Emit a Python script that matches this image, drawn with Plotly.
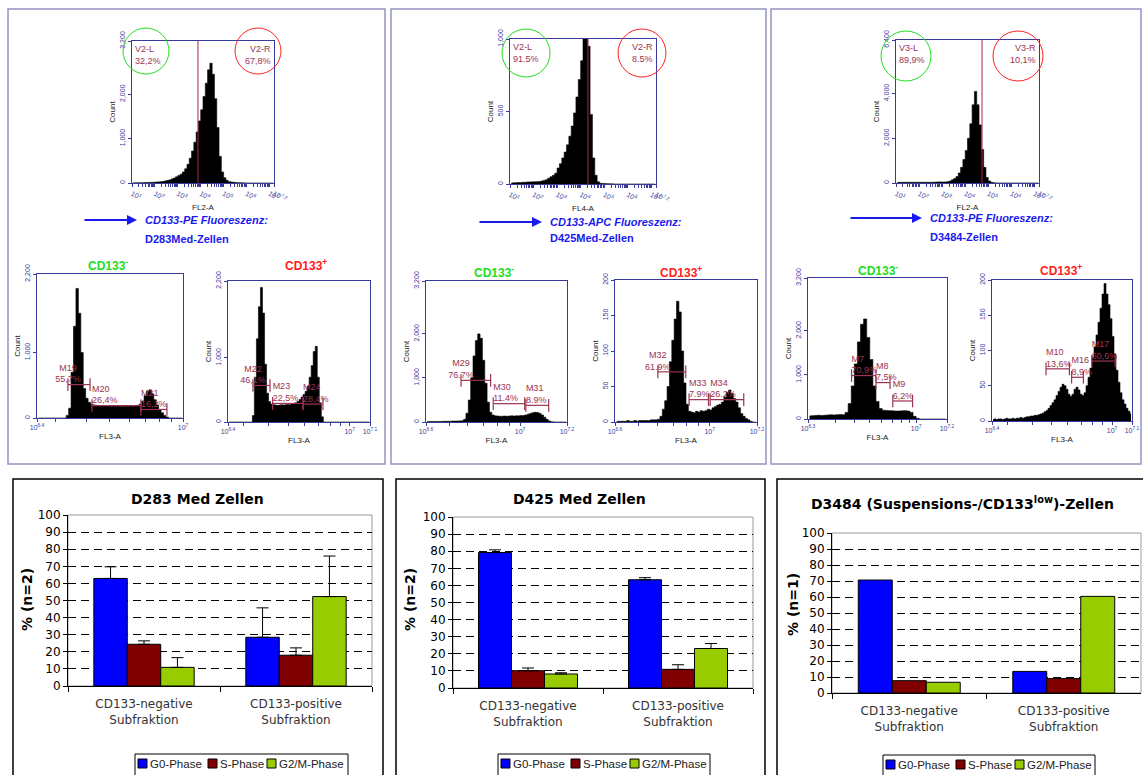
import numpy as np
import plotly.graph_objects as go

W, H = 1143, 775

# ------------------------------------------------------------------ data
# Top CD133 histograms: log10 bin start, bin width (log10), counts
H1_START, H1_STEP = 1.0, 0.1
H1_COUNTS = [5, 5, 5, 8, 8, 10, 10, 12, 15, 15,
             20, 25, 30, 35, 45, 55, 70, 90, 110, 140,
             170, 200, 250, 320, 420, 560, 720, 920, 1150, 1400,
             1650, 1950, 2250, 2550, 2700, 2450, 1900, 1250, 600, 250,
             120, 60, 30, 20, 15, 10, 8, 5, 3, 2,
             1, 1, 0, 0, 0, 0, 0, 0, 0, 0, 0, 0]
H1_GATE = 3.88
H1_GATE_TEXT = ["V2-L<br>32,2%", "V2-R<br>67,8%"]

H2_START, H2_STEP = 1.0, 0.1
H2_COUNTS = [5, 8, 8, 10, 10, 12, 12, 14, 14, 15,
             15, 16, 18, 20, 25, 30, 40, 50, 60, 75,
             110, 140, 180, 220, 270, 330, 400, 490, 600, 720,
             850, 1050, 1150, 950, 480, 180, 60, 15, 5, 3,
             3, 2, 1, 1, 0, 0, 0, 0, 0, 0,
             0, 0, 0, 0, 0, 0, 0, 0, 0, 0, 0, 0]
H2_GATE = 4.31
H2_GATE_TEXT = ["V2-L<br>91.5%", "V2-R<br>8.5%"]

H3_START, H3_STEP = 1.0, 0.1
H3_COUNTS = [20, 30, 30, 30, 30, 30, 30, 30, 30, 30,
             30, 30, 30, 30, 30, 30, 35, 40, 45, 50,
             40, 50, 60, 90, 140, 200, 290, 450, 700, 1050,
             1450, 2000, 2650, 3500, 4100, 3500, 2600, 1500, 700, 250,
             90, 30, 10, 5, 3, 2, 1, 0, 0, 0,
             0, 0, 0, 0, 0, 0, 0, 0, 0, 0, 0, 0]
H3_GATE = 4.73
H3_GATE_TEXT = ["V3-L<br>89,9%", "V3-R<br>10,1%"]

# Cell-cycle (FL3-A) histograms of the sorted fractions
S1L_START, S1L_STEP = 6.40, 0.01
S1L_COUNTS = [0, 0, 0, 0, 0, 0, 0, 0, 0, 0, 0, 0,
              40, 150, 700, 1400, 1980, 1600, 1000, 450, 300, 240, 210,
              200, 195, 190, 190, 185, 190, 185, 180, 185, 180,
              185, 180, 180, 185, 180, 185, 180, 190, 195, 210,
              260, 340, 410, 430, 370, 280, 200, 130, 80, 40, 15,
              0, 0, 0, 0, 0, 0]
S1L_MARKERS = [("M19", "55,7%", 6.527, 6.618, 510),
               ("M20", "26,4%", 6.626, 6.827, 190),
               ("M21", "16,2%", 6.827, 6.934, 130)]

S1R_START, S1R_STEP = 6.40, 0.01
S1R_COUNTS = [0, 0, 0, 0, 0, 0, 0, 0, 0, 0, 0, 0,
              100, 700, 1300, 1800, 2100, 1700, 900, 450, 320,
              280, 270, 265, 260, 265, 270, 265, 270, 275, 270, 280, 290, 300, 320, 350,
              390, 430, 480, 560, 700, 880, 1100, 1180, 700, 300, 80,
              0, 0, 0, 0, 0, 0, 0, 0, 0, 0, 0, 0, 0, 0, 0, 0, 0, 0, 0, 0, 0, 0, 0]
S1R_MARKERS = [("M22", "46,1%", 6.523, 6.607, 570),
               ("M23", "22,5%", 6.620, 6.770, 290),
               ("M24", "28,4%", 6.770, 6.868, 280)]

S2L_START, S2L_STEP = 6.60, 0.01
S2L_COUNTS = [10, 10, 10, 12, 12, 12, 12, 15, 15, 15, 18, 20, 20, 22, 25, 30,
              60, 200, 500, 1000, 1500, 1850, 2000, 1900, 1400, 880, 450, 220, 160,
              140, 135, 130, 130, 135, 130, 135, 140, 135, 140, 140, 145, 150,
              160, 175, 195, 210, 220, 215, 195, 160, 110, 60, 25,
              5, 2, 0, 0, 0, 0, 0]
S2L_MARKERS = [("M29", "76.7%", 6.749, 6.875, 945),
               ("M30", "11.4%", 6.886, 7.020, 416),
               ("M31", "8.9%", 7.025, 7.122, 378)]

S2R_START, S2R_STEP = 6.60, 0.01
S2R_COUNTS = [0, 1, 1, 1, 1, 2, 1, 1, 2, 1, 2, 2, 2, 2, 2, 3, 3, 3, 4,
              8, 18, 30, 50, 85, 115, 145, 170, 155, 100, 55, 25,
              15, 14, 13, 15, 14, 16, 15, 16, 18, 17, 20, 22,
              24, 25, 28, 35, 42, 45, 40, 33, 28, 20, 12, 8, 5, 3,
              1, 0, 0]
S2R_MARKERS = [("M32", "61.9%", 6.781, 6.899, 70.6),
               ("M33", "7.9%", 6.913, 6.995, 31.5),
               ("M34", "26.2%", 7.002, 7.144, 31.5)]

S3L_START, S3L_STEP = 6.30, 0.02
S3L_COUNTS = [70, 75, 80, 85, 80, 85, 90, 95, 90, 95, 100, 95,
              150, 350, 750, 1250, 1750, 2150, 2270, 1850, 1350, 750, 400, 240, 200,
              195, 190, 185, 180, 180, 185, 190, 180,
              150, 60, 15,
              0, 0, 0, 0, 0, 0, 0, 0, 0]
S3L_MARKERS = [("M7", "70,9%", 6.582, 6.740, 986),
               ("M8", "7,5%", 6.740, 6.831, 826),
               ("M9", "6,2%", 6.849, 6.977, 409)]

S3R_START, S3R_STEP = 6.40, 0.01
S3R_COUNTS = [2, 3, 2, 3, 3, 2, 3, 4, 3, 3, 4, 3, 4, 4, 5, 4, 5,
              6, 6, 7, 7, 8, 8, 9, 10, 11, 13,
              15, 18, 22, 26, 30, 36, 42, 48, 52, 50, 45, 38, 35, 38, 45, 48, 44, 38, 36,
              40, 50, 62, 75, 90, 105, 122, 140, 160, 180, 195, 180, 165, 145, 120,
              95, 72, 55, 40, 30, 24, 18, 14, 10]
S3R_MARKERS = [("M10", "13,6%", 6.670, 6.787, 74),
               ("M16", "8,9%", 6.798, 6.857, 62),
               ("M17", "60,6%", 6.899, 7.016, 85)]

# Bar charts: cell-cycle phase distribution
CATEGORIES = ["CD133-negative<br>Subfraktion", "CD133-positive<br>Subfraktion"]
PHASES = ["G0-Phase", "S-Phase", "G2/M-Phase"]

D283_G0 = [62.9, 28.5]
D283_S = [24.4, 18.0]
D283_G2M = [10.9, 52.3]
D283_G0_ERR = [6.8, 17.2]
D283_S_ERR = [2.0, 4.3]
D283_G2M_ERR = [5.7, 23.7]

D425_G0 = [79.2, 63.3]
D425_S = [10.1, 10.9]
D425_G2M = [8.2, 23.1]
D425_G0_ERR = [1.6, 1.2]
D425_S_ERR = [1.6, 2.7]
D425_G2M_ERR = [0.7, 2.9]

D3484_G0 = [70.6, 13.5]
D3484_S = [7.7, 9.0]
D3484_G2M = [6.7, 60.4]

BAR_TITLES = ["D283 Med Zellen", "D425 Med Zellen",
              "D3484 (Suspensions-/CD133<sup>low</sup>)-Zellen"]
BAR_YTITLES = ["% (n=2)", "% (n=2)", "% (n=1)"]
PANEL_TEXT = [("CD133-PE Fluoreszenz:", "D283Med-Zellen"),
              ("CD133-APC Fluoreszenz:", "D425Med-Zellen"),
              ("CD133-PE Fluoreszenz:", "D3484-Zellen")]

# ------------------------------------------------------------------ styles
NAVY = "#3a3a9c"
MAROON = "#9b3352"
GATE_RED = "#b0283a"
BLUE_TXT = "#1a1aee"
GREEN = "#22dd22"
RED = "#ff2020"
PHASE_COLORS = ["#0000ff", "#800000", "#99cc00"]
HFONT = "Liberation Sans"
BFONT = "DejaVu Sans"
LEG_SQUARE_OFFSETS = [3, 73, 132]


def fx(p):
    return p / W


def fy(p):
    return 1 - p / H


fig = go.Figure()
layout = {}
annotations = []
shapes = []


def ax_names(i):
    if i == 1:
        return "x", "y", "xaxis", "yaxis"
    return f"x{i}", f"y{i}", f"xaxis{i}", f"yaxis{i}"


def sup(e):
    return f"10<sup>{e}</sup>"


def small_ticks(lo, hi):
    vals = [10 ** lo]
    text = [sup(lo)]
    minor = []
    for k in range(2, 10):
        v = k * 1e6
        if lo + 1e-9 < np.log10(v) < hi - 1e-9:
            minor.append(v)
    if lo < 7 < hi:
        vals.append(1e7)
        text.append(sup(7))
    vals.append(10 ** hi)
    text.append(sup(7) if hi == 7 else sup(hi))
    return vals, text, minor


def add_hist(i, box, start, step, counts, xr, xticks, ymax, yticks, ytext, xtitle):
    xa, ya, xk, yk = ax_names(i)
    left, top, right, bottom = box
    centers = start + step * (np.arange(len(counts)) + 0.5)
    fig.add_trace(go.Scatter(x=10 ** centers, y=counts, xaxis=xa, yaxis=ya, mode="lines",
                             line=dict(color="black", width=0.6, shape="hvh"),
                             fill="tozeroy", fillcolor="black", showlegend=False,
                             hoverinfo="skip"))
    xdict = dict(domain=[fx(left), fx(right)], anchor=ya, type="log", range=list(xr),
                 showline=True, mirror=True, linecolor=NAVY, linewidth=1,
                 ticks="outside", ticklen=3, tickcolor=NAVY,
                 tickmode="array", tickvals=xticks[0], ticktext=xticks[1],
                 tickfont=dict(size=7, color=NAVY, family=HFONT),
                 showgrid=False, zeroline=False, automargin=False,
                 title=dict(text=xtitle, font=dict(size=8, color="#222", family=HFONT),
                            standoff=2))
    if xticks[2] is None:
        xdict["minor"] = dict(ticks="outside", ticklen=3, tickcolor=NAVY, dtick="D1",
                              showgrid=False)
    else:
        xdict["minor"] = dict(ticks="outside", ticklen=3, tickcolor=NAVY,
                              tickmode="array", tickvals=xticks[2], showgrid=False)
    layout[xk] = xdict
    layout[yk] = dict(domain=[fy(bottom), fy(top)], anchor=xa, range=[0, ymax],
                      showline=True, mirror=True, linecolor=NAVY, linewidth=1,
                      ticks="outside", ticklen=3, tickcolor=NAVY,
                      tickmode="array", tickvals=yticks, ticktext=ytext, tickangle=-90,
                      tickfont=dict(size=7, color=NAVY, family=HFONT),
                      showgrid=False, zeroline=False, automargin=False,
                      title=dict(text="Count", font=dict(size=8, color="#222", family=HFONT),
                                 standoff=2))
    return xa, ya


def add_gate(i, gate, ymax, texts):
    xa, ya, _, _ = ax_names(i)
    fig.add_trace(go.Scatter(x=[10 ** gate, 10 ** gate], y=[0, ymax], xaxis=xa, yaxis=ya,
                             mode="lines", line=dict(color=GATE_RED, width=1),
                             showlegend=False, hoverinfo="skip"))
    dref = "x domain" if i == 1 else f"x{i} domain"
    yref = "y domain" if i == 1 else f"y{i} domain"
    annotations.append(dict(xref=dref, yref=yref, x=0.01, y=0.99, xanchor="left",
                            yanchor="top", text=texts[0], showarrow=False, align="left",
                            font=dict(size=9, color=MAROON, family=HFONT)))
    annotations.append(dict(xref=dref, yref=yref, x=0.99, y=0.99, xanchor="right",
                            yanchor="top", text=texts[1], showarrow=False, align="right",
                            font=dict(size=9, color=MAROON, family=HFONT)))


def add_markers(i, markers, positions):
    xa, ya, _, _ = ax_names(i)
    for (name, pct, a, b, lvl), pos in zip(markers, positions):
        fig.add_trace(go.Scatter(x=[10 ** a, 10 ** b], y=[lvl, lvl], xaxis=xa, yaxis=ya,
                                 mode="lines+markers",
                                 line=dict(color=MAROON, width=1.2),
                                 marker=dict(symbol="line-ns", size=9,
                                             line=dict(color=MAROON, width=1.2)),
                                 showlegend=False, hoverinfo="skip"))
        fig.add_trace(go.Scatter(x=[10 ** a], y=[lvl], xaxis=xa, yaxis=ya, mode="text",
                                 text=[f"{name}<br>{pct}"], textposition=pos,
                                 textfont=dict(size=9, color=MAROON, family=HFONT),
                                 cliponaxis=False, showlegend=False, hoverinfo="skip"))


TOP_EXP = [1, 2, 3, 4, 5, 6, 7, 7.2]
TOP_TICKS = ([10 ** e for e in TOP_EXP], [sup(e) for e in TOP_EXP], None)

# top histograms
add_hist(1, (132, 41, 274, 183), H1_START, H1_STEP, H1_COUNTS, (1, 7.2), TOP_TICKS,
         3200, [0, 1000, 2000, 3200], ["0", "1,000", "2,000", "3,200"], "FL2-A")
add_gate(1, H1_GATE, 3200, H1_GATE_TEXT)
add_hist(2, (510, 39, 656, 184), H2_START, H2_STEP, H2_COUNTS, (1, 7.2), TOP_TICKS,
         1000, [0, 500, 1000], ["0", "500", "1,000"], "FL4-A")
add_gate(2, H2_GATE, 1000, H2_GATE_TEXT)
add_hist(3, (896, 40, 1039, 183), H3_START, H3_STEP, H3_COUNTS, (1, 7.2), TOP_TICKS,
         6400, [0, 2000, 4000, 6400], ["0", "2,000", "4,000", "6,400"], "FL2-A")
add_gate(3, H3_GATE, 6400, H3_GATE_TEXT)

# small histograms
FIRST_CENTER = ["top center", "top right", "top right"]
ALL_RIGHT = ["top right", "top right", "top right"]
add_hist(4, (37, 274, 183, 418), S1L_START, S1L_STEP, S1L_COUNTS, (6.4, 7.0),
         small_ticks(6.4, 7.0), 2200, [0, 1000, 2200], ["0", "1,000", "2,200"], "FL3-A")
add_markers(4, S1L_MARKERS, FIRST_CENTER)
add_hist(5, (228, 281, 370, 422), S1R_START, S1R_STEP, S1R_COUNTS, (6.4, 7.1),
         small_ticks(6.4, 7.1), 2200, [0, 1000, 2200], ["0", "1,000", "2,200"], "FL3-A")
add_markers(5, S1R_MARKERS, FIRST_CENTER)
add_hist(6, (426, 281, 567, 422), S2L_START, S2L_STEP, S2L_COUNTS, (6.6, 7.2),
         small_ticks(6.6, 7.2), 3200, [0, 1000, 2000, 3200],
         ["0", "1,000", "2,000", "3,200"], "FL3-A")
add_markers(6, S2L_MARKERS, FIRST_CENTER)
add_hist(7, (615, 280, 757, 422), S2R_START, S2R_STEP, S2R_COUNTS, (6.6, 7.2),
         small_ticks(6.6, 7.2), 200, [0, 50, 100, 150, 200],
         ["0", "50", "100", "150", "200"], "FL3-A")
add_markers(7, S2R_MARKERS, FIRST_CENTER)
add_hist(8, (808, 278, 947, 419), S3L_START, S3L_STEP, S3L_COUNTS, (6.3, 7.2),
         small_ticks(6.3, 7.2), 3200, [0, 1000, 2000, 3200],
         ["0", "1,000", "2,000", "3,200"], "FL3-A")
add_markers(8, S3L_MARKERS, ALL_RIGHT)
add_hist(9, (992, 280, 1132, 421), S3R_START, S3R_STEP, S3R_COUNTS, (6.4, 7.1),
         small_ticks(6.4, 7.1), 200, [0, 50, 100, 150, 200],
         ["0", "50", "100", "150", "200"], "FL3-A")
add_markers(9, S3R_MARKERS, ALL_RIGHT)

# ------------------------------------------------------------------ bar charts
BAR_SETS = [
    (10, (68, 515, 372, 686), [D283_G0, D283_S, D283_G2M],
     [D283_G0_ERR, D283_S_ERR, D283_G2M_ERR], (135, 754, 348), (197, 499), (27, 600)),
    (11, (453, 517, 753, 688), [D425_G0, D425_S, D425_G2M],
     [D425_G0_ERR, D425_S_ERR, D425_G2M_ERR], (498, 754, 710), (579, 499), (410, 600)),
    (12, (832, 533, 1141, 693), [D3484_G0, D3484_S, D3484_G2M],
     [None, None, None], (883, 755, 1095), (962, 503), (793, 605)),
]

for k, (i, box, series, errs, legbox, titlepos, ytpos) in enumerate(BAR_SETS):
    xa, ya, xk, yk = ax_names(i)
    left, top, right, bottom = box
    for vals, err, name, col in zip(series, errs, PHASES, PHASE_COLORS):
        kw = {}
        if err is not None:
            kw["error_y"] = dict(type="data", array=err, arrayminus=[0] * len(err),
                                 symmetric=False, color="black", thickness=1, width=6)
        fig.add_trace(go.Bar(x=CATEGORIES, y=vals, name=name, xaxis=xa, yaxis=ya,
                             marker=dict(color=col, line=dict(color="black", width=1)),
                             showlegend=False, **kw))
    layout[xk] = dict(domain=[fx(left), fx(right)], anchor=ya, type="category",
                      range=[-0.5, 1.5], showline=True, linecolor="black", linewidth=1,
                      ticks="outside", tickson="boundaries", ticklen=5, tickcolor="black",
                      ticklabelstandoff=7,
                      tickfont=dict(size=12, color="#333", family=BFONT), showgrid=False,
                      automargin=False)
    layout[yk] = dict(domain=[fy(bottom), fy(top)], anchor=xa, range=[0, 100],
                      tickmode="array", tickvals=list(range(0, 101, 10)),
                      showline=True, linecolor="black", linewidth=1,
                      ticks="outside", ticklen=4, tickcolor="black",
                      tickfont=dict(size=12, color="black", family=BFONT),
                      showgrid=True, gridcolor="black", gridwidth=1, griddash="8px,5px",
                      zeroline=False, automargin=False)
    shapes.append(dict(type="rect", xref=f"{xa} domain", yref=f"{ya} domain",
                       x0=0, x1=1, y0=0, y1=1, line=dict(color="#999999", width=1),
                       layer="below"))
    # legend drawn as frame + colour squares + labels
    lx0, ly0, lx1 = legbox
    shapes.append(dict(type="rect", xref="paper", yref="paper", x0=fx(lx0), x1=fx(lx1),
                       y0=fy(ly0 + 30), y1=fy(ly0), line=dict(color="black", width=1),
                       fillcolor="white"))
    for off, name, col in zip(LEG_SQUARE_OFFSETS, PHASES, PHASE_COLORS):
        sx = lx0 + off
        shapes.append(dict(type="rect", xref="paper", yref="paper", x0=fx(sx),
                           x1=fx(sx + 9), y0=fy(ly0 + 14), y1=fy(ly0 + 5),
                           line=dict(color="black", width=1), fillcolor=col))
        annotations.append(dict(xref="paper", yref="paper", x=fx(sx + 10), y=fy(ly0 + 9.5),
                                xanchor="left", yanchor="middle", text=name,
                                showarrow=False,
                                font=dict(size=11.5, color="#222", family=HFONT)))
    annotations.append(dict(xref="paper", yref="paper", x=fx(titlepos[0]), y=fy(titlepos[1]),
                            xanchor="center", yanchor="middle",
                            text=f"<b>{BAR_TITLES[k]}</b>", showarrow=False,
                            font=dict(size=14, color="black", family=BFONT)))
    annotations.append(dict(xref="paper", yref="paper", x=fx(ytpos[0]), y=fy(ytpos[1]),
                            xanchor="center", yanchor="middle",
                            text=f"<b>{BAR_YTITLES[k]}</b>", showarrow=False, textangle=-90,
                            font=dict(size=14, color="black", family=BFONT)))

# ------------------------------------------------------------------ decorations
# panel frames
for (x0, y0, x1, y1) in [(8, 9, 385, 464), (391, 9, 766, 464), (771, 9, 1141, 464)]:
    shapes.append(dict(type="rect", xref="paper", yref="paper", x0=fx(x0), x1=fx(x1),
                       y0=fy(y1), y1=fy(y0), line=dict(color="#9494c4", width=1.5)))
for (x0, y0, x1, y1) in [(13, 479, 383, 790), (396, 479, 765, 790), (777, 479, 1150, 790)]:
    shapes.append(dict(type="rect", xref="paper", yref="paper", x0=fx(x0), x1=fx(x1),
                       y0=fy(y1), y1=fy(y0), line=dict(color="black", width=1.5)))

# gate circles
for (cx, cy, r, col) in [(146, 51, 23, GREEN), (258, 51, 23, RED),
                         (526, 53, 24, GREEN), (642, 53, 24, RED),
                         (906, 56, 25, GREEN), (1018, 56, 25, RED)]:
    shapes.append(dict(type="circle", xref="paper", yref="paper", x0=fx(cx - r),
                       x1=fx(cx + r), y0=fy(cy + r), y1=fy(cy - r),
                       line=dict(color=col, width=1)))

# arrows and fluorescence captions
for (tail, head, ya_, yb_), (l1, l2) in zip([(83, 137, 220, 239), (478, 542, 222, 238),
                                             (849, 922, 218, 237)], PANEL_TEXT):
    annotations.append(dict(xref="paper", yref="paper", x=fx(head), y=fy(ya_), ax=tail - head,
                            ay=0, text="", showarrow=True, arrowhead=2, arrowsize=1,
                            arrowwidth=2, arrowcolor=BLUE_TXT))
    annotations.append(dict(xref="paper", yref="paper", x=fx(head + 6), y=fy(ya_),
                            xanchor="left", yanchor="middle", showarrow=False,
                            text=f"<b><i>{l1}</i></b>",
                            font=dict(size=11, color=BLUE_TXT, family=HFONT)))
    annotations.append(dict(xref="paper", yref="paper", x=fx(head + 6), y=fy(yb_),
                            xanchor="left", yanchor="middle", showarrow=False,
                            text=f"<b>{l2}</b>",
                            font=dict(size=11, color=BLUE_TXT, family=HFONT)))

# CD133- / CD133+ labels
for (cx, cy, txt, col) in [(108, 265, "CD133<sup>-</sup>", GREEN),
                           (306, 265, "CD133<sup>+</sup>", RED),
                           (494, 272, "CD133<sup>-</sup>", GREEN),
                           (681, 272, "CD133<sup>+</sup>", RED),
                           (878, 270, "CD133<sup>-</sup>", GREEN),
                           (1061, 270, "CD133<sup>+</sup>", RED)]:
    annotations.append(dict(xref="paper", yref="paper", x=fx(cx), y=fy(cy), showarrow=False,
                            xanchor="center", yanchor="middle",
                            text=f"<b>{txt}</b>", font=dict(size=12, color=col, family=HFONT)))

layout.update(dict(width=W, height=H, autosize=False, margin=dict(l=0, r=0, t=0, b=0),
                   paper_bgcolor="white", plot_bgcolor="white", barmode="group",
                   bargap=0.34, bargroupgap=0, showlegend=False,
                   annotations=annotations, shapes=shapes))
fig.update_layout(**layout)
fig.write_html("out.html")
